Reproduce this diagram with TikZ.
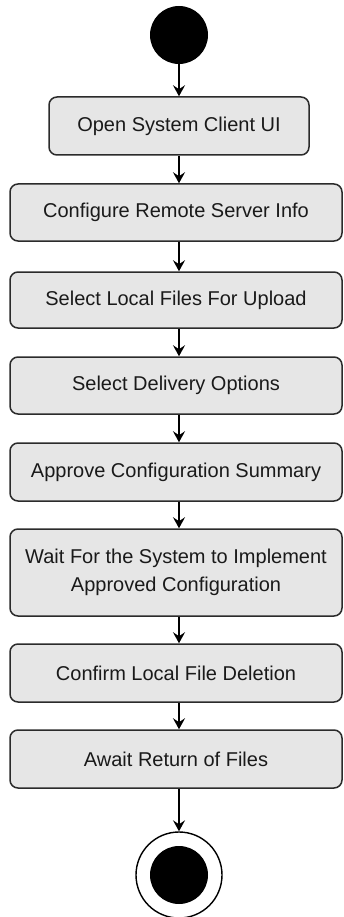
\documentclass[tikz,border=0pt]{standalone}
\usepackage{fontspec}
\setmainfont{Liberation Sans}
\usetikzlibrary{arrows.meta}
\definecolor{actfill}{HTML}{E6E6E6}
\definecolor{actedge}{HTML}{2B2B2B}
\definecolor{acttext}{HTML}{1A1A1A}

\begin{document}
\begin{tikzpicture}[
  x=1pt,
  y=-1pt,
  line join=round,
  action/.style={draw=actedge,fill=actfill,line width=1.5pt,rounded corners=8pt,
    minimum width=332pt,minimum height=57pt,inner sep=0pt,align=center,
    text=acttext,font=\fontsize{20}{28}\selectfont},
  initial/.style={circle,fill=black,minimum size=58pt,inner sep=0pt},
  final/.style={circle,draw=black,line width=1.4pt,fill=white,minimum size=86pt,inner sep=0pt},
  finaldot/.style={circle,fill=black,minimum size=58pt,inner sep=0pt},
  flow/.style={draw=black,line width=1.7pt,-{Stealth[length=11pt,width=12pt,inset=4pt]}}
]
  \useasboundingbox (0,0) rectangle (343,917);

  % Start and end states.
  \node[initial] (start) at (179,35) {};
  \node[final] (stop) at (179,875) {};
  \node[finaldot] (stopdot) at (179,875) {};

  % Activity boxes, top to bottom.
  \node[action,minimum width=260pt,minimum height=58pt] (open) at (179,126) {Open System Client UI};
  \node[action] (server) at (176,212.5) {Configure Remote Server Info};
  \node[action,minimum height=56pt] (files) at (176,300) {Select Local Files For Upload};
  \node[action] (delivery) at (176,385.5) {Select Delivery Options};
  \node[action,minimum height=58pt] (approve) at (176,472) {Approve Configuration Summary};
  \node[action,minimum height=87pt] (wait) at (176,572.5) {Wait For the System to Implement\\Approved Configuration};
  \node[action,minimum height=58pt] (delete) at (176,673) {Confirm Local File Deletion};
  \node[action,minimum height=58pt] (await) at (176,759) {Await Return of Files};

  % Control flow.
  \draw[flow] (start.south) -- (open.north);
  \draw[flow] (open.south) -- (open.south |- server.north);
  \draw[flow] (open.south |- server.south) -- (open.south |- files.north);
  \draw[flow] (open.south |- files.south) -- (open.south |- delivery.north);
  \draw[flow] (open.south |- delivery.south) -- (open.south |- approve.north);
  \draw[flow] (open.south |- approve.south) -- (open.south |- wait.north);
  \draw[flow] (open.south |- wait.south) -- (open.south |- delete.north);
  \draw[flow] (open.south |- delete.south) -- (open.south |- await.north);
  \draw[flow] (open.south |- await.south) -- (stop.north);
\end{tikzpicture}
\end{document}
